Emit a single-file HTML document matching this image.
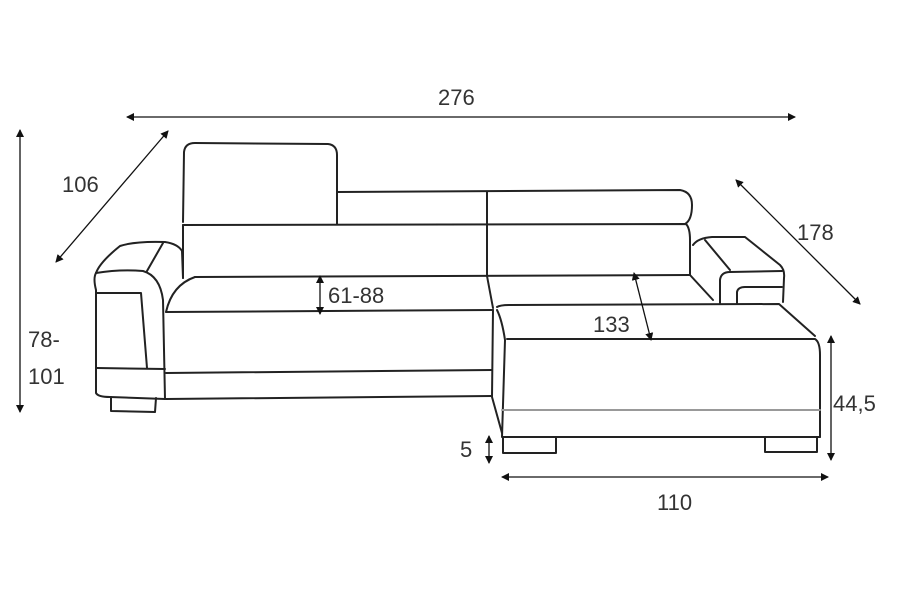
<!DOCTYPE html>
<html><head><style>
body{margin:0;background:#fff;}
svg{display:block}
text{font-family:"Liberation Sans",sans-serif;font-size:22px;fill:#333}
</style></head><body>
<svg width="900" height="600" viewBox="0 0 900 600" xmlns="http://www.w3.org/2000/svg">
<defs>
<marker id="a" markerWidth="8" markerHeight="8" refX="7" refY="4" orient="auto-start-reverse" markerUnits="userSpaceOnUse"><path d="M0,0 L8,4 L0,8 z" fill="#111"/></marker>
</defs>
<g fill="none" stroke="#222" stroke-width="2" stroke-linejoin="round" stroke-linecap="round">
<!-- headrest -->
<path d="M183,222 L184,152 Q185,143 195,143 L328,144 Q337,145 337,155 L337,224"/>
<!-- back top -->
<path d="M337,192 L680,190 Q692,192 692,205 Q692,220 685,224"/>
<path d="M183,225 L686,224 Q690,228 690,240 L690,275"/>
<path d="M183,225 L183,278"/>
<path d="M195,277 L690,275"/>
<path d="M487,192 L487,276 L493,308"/>
<!-- seat -->
<path d="M166,312 Q172,285 195,277"/>
<path d="M166,312 L493,310"/>
<path d="M166,373 L492,370"/>
<path d="M166,399 L492,396"/>
<!-- left arm -->
<path d="M96,273 Q100,262 120,246 Q135,241 165,242 Q178,244 182,251 L183,278"/>
<path d="M163,243 L147,271"/>
<path d="M96,273 Q120,269 143,271 Q160,276 163,300 L165,399"/>
<path d="M96,273 Q93,278 96,290 L96,393 Q98,397 110,397 L165,399"/>
<path d="M97,293 L141,293 L147,368"/>
<path d="M97,368 L165,369"/>
<path d="M111,397 L111,411 L155,412 L156,398"/>
<!-- right armrest -->
<path d="M693,245 Q698,238 712,237 L745,237 L780,265 Q785,270 784,278 L783,302"/>
<path d="M705,240 L730,270"/>
<path d="M720,303 L720,280 Q721,272 730,272 L782,271"/>
<path d="M737,303 L737,292 Q738,287 745,287 L782,287"/>
<path d="M690,275 L713,300"/>
<!-- chaise -->
<path d="M497,307 Q500,305 510,305 L779,304 L815,336"/>
<path d="M507,339 L815,339 Q820,342 820,355 L820,437"/>
<path d="M497,310 Q502,320 505,340 L502,437 L820,437"/>
<path d="M493,310 L492,397 L502,433"/>
<path d="M502,410 L820,410" stroke="#999"/>
<path d="M503,437 L503,453 L556,453 L556,437"/>
<path d="M765,437 L765,452 L817,452 L817,437"/>
</g>
<g stroke="#111" stroke-width="1.3" fill="none">
<line x1="127" y1="117" x2="795" y2="117" marker-start="url(#a)" marker-end="url(#a)"/>
<line x1="56" y1="262" x2="168" y2="131" marker-start="url(#a)" marker-end="url(#a)"/>
<line x1="736" y1="180" x2="860" y2="304" marker-start="url(#a)" marker-end="url(#a)"/>
<line x1="20" y1="130" x2="20" y2="412" marker-start="url(#a)" marker-end="url(#a)"/>
<line x1="831" y1="336" x2="831" y2="460" marker-start="url(#a)" marker-end="url(#a)"/>
<line x1="489" y1="436" x2="489" y2="463" marker-start="url(#a)" marker-end="url(#a)"/>
<line x1="502" y1="477" x2="828" y2="477" marker-start="url(#a)" marker-end="url(#a)"/>
<line x1="320" y1="276" x2="320" y2="314" marker-start="url(#a)" marker-end="url(#a)"/>
<line x1="634" y1="273" x2="651" y2="340" marker-start="url(#a)" marker-end="url(#a)"/>
</g>
<text x="438" y="105">276</text>
<text x="62" y="192">106</text>
<text x="797" y="240">178</text>
<text x="28" y="347">78-</text>
<text x="28" y="384">101</text>
<text x="833" y="411">44,5</text>
<text x="460" y="457">5</text>
<text x="657" y="510">110</text>
<text x="328" y="303">61-88</text>
<text x="593" y="332">133</text>
</svg>
</body></html>
